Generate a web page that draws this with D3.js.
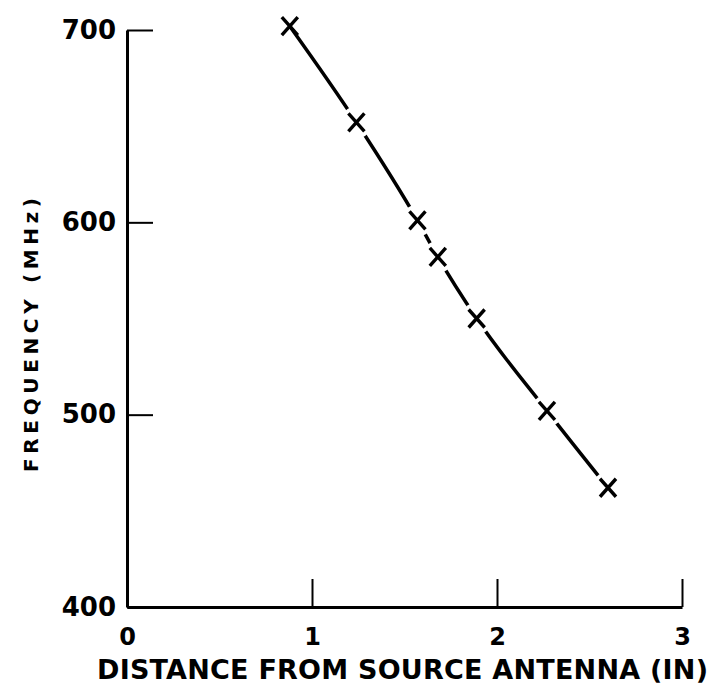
<!DOCTYPE html>
<html>
<head>
<meta charset="utf-8">
<script src="https://cdn.jsdelivr.net/npm/d3@7"></script>
<style>
  body { margin: 0; background: #fff; }
  svg { display: block; }
  text { font-family: "DejaVu Sans", sans-serif; font-weight: bold; fill: #000; }
</style>
</head>
<body>
<div id="chart"></div>
<script>
var width = 712;
var height = 690;

// values
var distance = [0.88, 1.24, 1.57, 1.68, 1.89, 2.27, 2.60];
var frequency = [702, 652, 601, 582, 550, 502, 462];
var xTicks = [0, 1, 2, 3];
var yTicks = [400, 500, 600, 700];

const x = d3.scaleLinear().domain([0, 3]).range([127, 682]);
const y = d3.scaleLinear().domain([400, 700]).range([607, 30]);

const svg = d3.select("#chart")
    .append("svg")
    .attr("width", width)
    .attr("height", height);

// y axis, ticks pointing inward
svg.append("g")
    .attr("transform", "translate(" + x(0) + ",0)")
    .call(d3.axisLeft(y).tickValues(yTicks).tickSizeInner(-26).tickSizeOuter(0).tickPadding(11))
    .call(g => g.select(".domain").attr("stroke-width", 3))
    .call(g => g.selectAll(".tick line").attr("stroke-width", 2))
    .call(g => g.selectAll(".tick text")
        .attr("font-size", 26)
        .attr("font-family", "DejaVu Sans")
        .attr("font-weight", "bold"));

// x axis, ticks pointing up
svg.append("g")
    .attr("transform", "translate(0," + y(400) + ")")
    .call(d3.axisBottom(x).tickValues(xTicks).tickFormat(d3.format("d")).tickSizeInner(-28).tickSizeOuter(0).tickPadding(21))
    .call(g => g.select(".domain").attr("stroke-width", 3))
    .call(g => g.selectAll(".tick line").attr("stroke-width", 2))
    .call(g => g.selectAll(".tick text")
        .attr("font-size", 24)
        .attr("font-family", "Liberation Sans")
        .attr("font-weight", "bold"));

var data = distance.map(function(d, i){ return { dist: d, freq: frequency[i] }; });

svg.append("path")
    .datum(data)
    .attr("fill", "none")
    .attr("stroke", "#000")
    .attr("stroke-width", 3.5)
    .attr("d", d3.line()
        .curve(d3.curveMonotoneX)
        .x(function(d){ return x(d.dist); })
        .y(function(d){ return y(d.freq); }));

// break the line around each marker, as drawn
svg.selectAll(".gap")
    .data(data.slice(1))
    .enter().append("circle")
    .attr("cx", function(d){ return x(d.dist); })
    .attr("cy", function(d){ return y(d.freq); })
    .attr("r", 16)
    .attr("fill", "#fff");

svg.selectAll(".mark")
    .data(data)
    .enter().append("path")
    .attr("transform", function(d){ return "translate(" + x(d.dist) + "," + y(d.freq) + ")"; })
    .attr("d", "M-8,-9L8,9M8,-9L-8,9")
    .attr("stroke", "#000")
    .attr("stroke-width", 3.4)
    .attr("fill", "none");

svg.append("text")
    .attr("x", 97)
    .attr("y", 679)
    .attr("font-family", "Liberation Sans")
    .attr("font-size", 27)
    .attr("textLength", 611)
    .attr("lengthAdjust", "spacing")
    .text("DISTANCE FROM SOURCE ANTENNA (IN)");

svg.append("text")
    .attr("transform", "translate(38,472) rotate(-90)")
    .attr("font-family", "Liberation Sans")
    .attr("font-size", 20)
    .attr("textLength", 274)
    .attr("lengthAdjust", "spacing")
    .text("FREQUENCY (MHz)");
</script>
</body>
</html>
